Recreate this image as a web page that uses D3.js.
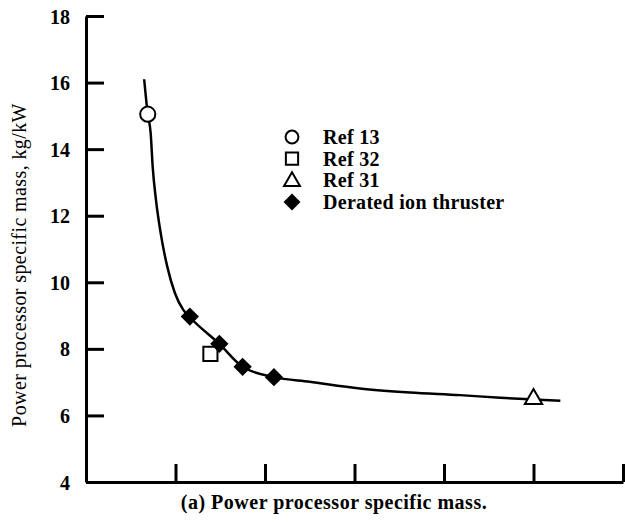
<!DOCTYPE html>
<html>
<head>
<meta charset="utf-8">
<script src="https://cdn.jsdelivr.net/npm/d3@7"></script>
<style>
  body { margin: 0; background: #fff; }
  text { font-family: "Liberation Serif", "DejaVu Serif", serif; fill: #000; }
</style>
</head>
<body>
<div id="chart"></div>
<script>
// values (x axis has no labels, units are tick steps)
const yTicks = [4, 6, 8, 10, 12, 14, 16, 18];
const xTicks = [1, 2, 3, 4, 5, 6];

const curveX = [0.65, 0.69, 0.723, 0.745, 0.782, 0.835, 0.908, 0.994, 1.087, 1.16, 1.49, 1.75, 2.10, 2.50, 3.06, 3.62, 4.18, 4.63, 5.00, 5.30];
const curveY = [16.1, 15.05, 14.47, 13.47, 12.47, 11.47, 10.47, 9.67, 9.17, 8.95, 8.15, 7.46, 7.15, 7.01, 6.81, 6.69, 6.61, 6.53, 6.48, 6.44];

const ref13 = [{x: 0.69, y: 15.05}];
const ref32 = [{x: 1.39, y: 7.85}];
const ref31 = [{x: 5.0, y: 6.52}];
const derated = [
    {x: 1.16, y: 8.97},
    {x: 1.49, y: 8.15},
    {x: 1.75, y: 7.46},
    {x: 2.10, y: 7.15}
];

const legendItems = [
    {name: "Ref 13", sym: "circle"},
    {name: "Ref 32", sym: "square"},
    {name: "Ref 31", sym: "triangle"},
    {name: "Derated ion thruster", sym: "diamond"}
];

const width = 625, height = 522;

const x = d3.scaleLinear().domain([0, 6]).range([86, 623]);
const y = d3.scaleLinear().domain([4, 18]).range([482, 16]);

const svg = d3.select("#chart").append("svg")
    .attr("width", width)
    .attr("height", height);

//y axis, ticks pointing inward
const yAxis = svg.append("g")
    .attr("transform", `translate(${x(0)},0)`)
    .call(d3.axisLeft(y).tickValues(yTicks).tickSize(-18).tickSizeOuter(0).tickPadding(16));
yAxis.select(".domain").attr("stroke-width", 3);
yAxis.selectAll(".tick line").attr("stroke-width", 3);
yAxis.selectAll(".tick text")
    .style("font-size", "20px")
    .style("font-weight", "bold")
    .attr("dy", "0.35em");

//x axis, no labels
const xAxis = svg.append("g")
    .attr("transform", `translate(0,${y(4)})`)
    .call(d3.axisBottom(x).tickValues(xTicks).tickSize(-18).tickSizeOuter(0).tickFormat(""));
xAxis.select(".domain").attr("stroke-width", 3);
xAxis.selectAll(".tick line").attr("stroke-width", 3);

//axis title
svg.append("text")
    .attr("transform", `translate(26,265) rotate(-90)`)
    .attr("text-anchor", "middle")
    .style("font-size", "20px")
    .style("letter-spacing", "0.4px")
    .text("Power processor specific mass, kg/kW");

//caption
svg.append("text")
    .attr("x", 334)
    .attr("y", 509)
    .attr("text-anchor", "middle")
    .style("font-size", "20px")
    .style("font-weight", "bold")
    .style("letter-spacing", "0.5px")
    .text("(a) Power processor specific mass.");

//fitted curve
const line = d3.line()
    .x(d => x(d[0]))
    .y(d => y(d[1]))
    .curve(d3.curveMonotoneX);

svg.append("path")
    .datum(d3.zip(curveX, curveY))
    .attr("d", line)
    .attr("fill", "none")
    .attr("stroke", "#000")
    .attr("stroke-width", 2.5);

const symbolGen = {
    circle: d3.symbol(d3.symbolCircle, 180),
    square: d3.symbol(d3.symbolSquare, 200),
    triangle: d3.symbol(d3.symbolTriangle, 130),
    diamond: d3.symbol(d3.symbolSquare, 120)
};

function drawMarks(data, sym) {
    const g = svg.append("g");
    const marks = g.selectAll("path")
        .data(data)
        .join("path")
        .attr("d", symbolGen[sym]())
        .attr("stroke", "#000")
        .attr("stroke-width", 2)
        .attr("fill", sym == "diamond" ? "#000" : "#fff");
    if (sym == "diamond") {
        marks.attr("transform", d => `translate(${x(d.x)},${y(d.y)}) rotate(45)`);
    } else {
        marks.attr("transform", d => `translate(${x(d.x)},${y(d.y) + (sym == "triangle" ? 1 : 0)})`);
    }
}

drawMarks(ref13, "circle");
drawMarks(ref32, "square");
drawMarks(ref31, "triangle");
drawMarks(derated, "diamond");

//legend
const legend = svg.append("g")
    .attr("transform", "translate(292,137)");

const rows = legend.selectAll("g")
    .data(legendItems)
    .join("g")
    .attr("transform", (d, i) => `translate(0,${i * 21.7})`);

rows.append("path")
    .attr("d", d => d3.symbol(
        d.sym == "circle" ? d3.symbolCircle : d.sym == "triangle" ? d3.symbolTriangle : d3.symbolSquare,
        d.sym == "circle" ? 130 : d.sym == "square" ? 150 : d.sym == "triangle" ? 110 : 100)())
    .attr("transform", d => d.sym == "diamond" ? "rotate(45)" : d.sym == "triangle" ? "translate(0,1)" : null)
    .attr("stroke", "#000")
    .attr("stroke-width", 2)
    .attr("fill", d => d.sym == "diamond" ? "#000" : "#fff");

rows.append("text")
    .attr("x", 31)
    .attr("dy", "0.35em")
    .style("font-size", "20px")
    .style("font-weight", "bold")
    .style("letter-spacing", "0.3px")
    .text(d => d.name);
</script>
</body>
</html>
